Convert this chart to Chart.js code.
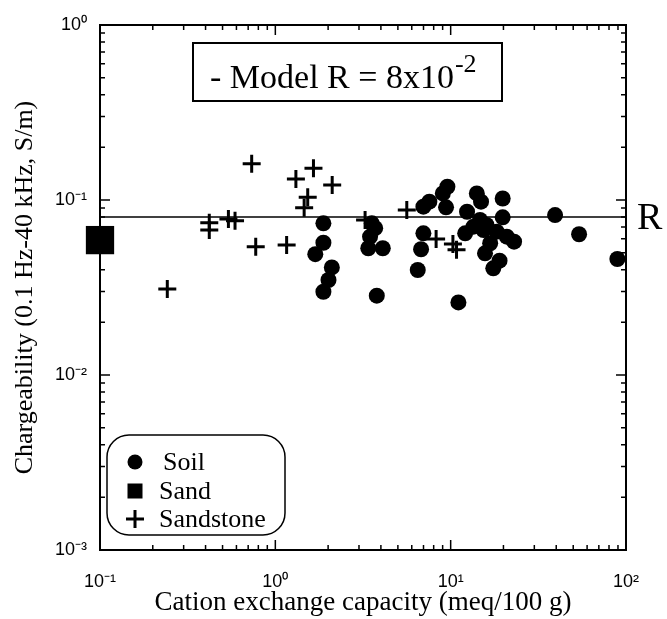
<!DOCTYPE html>
<html><head><meta charset="utf-8">
<script src="https://cdn.jsdelivr.net/npm/chart.js@4"></script>
<style>html,body{margin:0;padding:0;background:#fff}#wrap{width:667px;height:619px}</style>
</head><body><div id="wrap"><canvas id="c" width="667" height="619"></canvas></div>
<script>
// ---- data ----
const soilCEC    = [1.88, 1.88, 1.69, 2.10, 2.01, 1.88, 3.79, 3.39, 3.55, 3.47, 3.71, 4.10, 6.99, 7.56, 9.58, 9.02, 9.41, 6.99, 6.78, 6.49, 11.07, 14.1, 14.9, 12.4, 19.8, 19.8, 14.7, 13.5, 12.1, 15.4, 18.3, 20.9, 23.0, 16.8, 15.7, 19.0, 17.5, 39.4, 54.0, 89.3, 16.0];
const soilCharge = [0.0736, 0.057, 0.049, 0.0412, 0.0349, 0.0299, 0.0284, 0.053, 0.0736, 0.0617, 0.069, 0.053, 0.0916, 0.0978, 0.119, 0.109, 0.0908, 0.0645, 0.0523, 0.0398, 0.026, 0.109, 0.0978, 0.0857, 0.102, 0.0796, 0.0769, 0.0704, 0.0645, 0.0674, 0.0659, 0.0617, 0.0578, 0.0566, 0.0496, 0.045, 0.0407, 0.082, 0.0637, 0.046, 0.072];
const sandCEC    = [0.1];
const sandCharge = [0.059];
const sandstoneCEC    = [0.242, 0.42, 0.42, 0.54, 0.589, 0.733, 0.773, 1.16, 1.31, 1.65, 2.11, 1.53, 1.46, 3.25, 5.62, 8.26, 10.3, 10.8];
const sandstoneCharge = [0.031, 0.0742, 0.0674, 0.0779, 0.0761, 0.161, 0.054, 0.0553, 0.132, 0.152, 0.122, 0.1036, 0.0904, 0.0769, 0.0877, 0.0598, 0.056, 0.052];
const modelR = 0.08;
const modelRange = [0.1, 100];
const decadeLabels = {'-3':'10⁻³','-2':'10⁻²','-1':'10⁻¹','0':'10⁰','1':'10¹','2':'10²'};
const xTitle = 'Cation exchange capacity (meq/100 g)';
const yTitle = 'Chargeability (0.1 Hz-40 kHz, S/m)';
const modelText = '- Model R = 8x10';
const modelSup = '-2';
const rLabel = 'R';

const pts = (xs, ys) => xs.map((x, i) => ({x: x, y: ys[i]}));
const SERIF = '"Liberation Serif", "Times New Roman", serif';
const SANS = '"Liberation Sans", Arial, sans-serif';

function tickCb(v){
  const e = Math.log10(v);
  const r = Math.round(e);
  if (Math.abs(e - r) < 1e-6 && decadeLabels[String(r)] !== undefined) return decadeLabels[String(r)];
  return '';
}

const decorPlugin = {
  id: 'decor',
  afterDraw(chart){
    const ctx = chart.ctx;
    const a = chart.chartArea;
    const xs = chart.scales.x, ys = chart.scales.y;
    ctx.save();
    ctx.strokeStyle = '#000';
    ctx.fillStyle = '#000';
    // frame
    ctx.lineWidth = 2;
    ctx.strokeRect(a.left, a.top, a.right - a.left, a.bottom - a.top);
    // inward ticks
    ctx.lineWidth = 1.5;
    ctx.beginPath();
    for (let d = -1; d <= 2; d++) {
      for (let m = 1; m <= 9; m++) {
        const v = m * Math.pow(10, d);
        if (v > 100.0001) break;
        const p = xs.getPixelForValue(v);
        const len = m === 1 ? 10 : 5;
        ctx.moveTo(p, a.bottom); ctx.lineTo(p, a.bottom - len);
        ctx.moveTo(p, a.top); ctx.lineTo(p, a.top + len);
      }
    }
    for (let d = -3; d <= 0; d++) {
      for (let m = 1; m <= 9; m++) {
        const v = m * Math.pow(10, d);
        if (v > 1.0001) break;
        const p = ys.getPixelForValue(v);
        const len = m === 1 ? 10 : 5;
        ctx.moveTo(a.left, p); ctx.lineTo(a.left + len, p);
        ctx.moveTo(a.right, p); ctx.lineTo(a.right - len, p);
      }
    }
    ctx.stroke();

    // model box
    ctx.lineWidth = 2;
    ctx.strokeRect(193, 43, 309, 58);
    ctx.font = '34px ' + SERIF;
    ctx.textBaseline = 'alphabetic';
    ctx.textAlign = 'left';
    ctx.fillText(modelText, 210, 88);
    const w = ctx.measureText(modelText).width;
    ctx.font = '26px ' + SERIF;
    ctx.fillText(modelSup, 210 + w + 1, 72);

    // R label at model line
    const ry = ys.getPixelForValue(modelR);
    ctx.font = '38px ' + SERIF;
    ctx.textBaseline = 'middle';
    ctx.fillText(rLabel, a.right + 11, ry + 2);

    // legend
    const lx = 107, ly = 435, lw = 178, lh = 100, rr = 22;
    ctx.lineWidth = 1.5;
    ctx.beginPath();
    ctx.roundRect(lx, ly, lw, lh, rr);
    ctx.fillStyle = '#fff';
    ctx.fill();
    ctx.stroke();
    ctx.fillStyle = '#000';
    const ds = chart.data.datasets;
    const rows = [ds[1], ds[2], ds[3]];
    const rowY = [462, 491, 519];
    const textX = [163, 159, 159];
    ctx.font = '26px ' + SERIF;
    ctx.textBaseline = 'middle';
    rows.forEach((d, i) => {
      const cx = 135, cy = rowY[i];
      if (d.pointStyle === 'circle') {
        ctx.beginPath(); ctx.arc(cx, cy, 7.5, 0, Math.PI * 2); ctx.fill();
      } else if (d.pointStyle === 'rect') {
        ctx.fillRect(cx - 7.5, cy - 7.5, 15, 15);
      } else if (d.pointStyle === 'cross') {
        ctx.lineWidth = 3;
        ctx.beginPath();
        ctx.moveTo(cx - 9, cy); ctx.lineTo(cx + 9, cy);
        ctx.moveTo(cx, cy - 9); ctx.lineTo(cx, cy + 9);
        ctx.stroke();
      }
      ctx.fillText(d.label, textX[i], cy + 1);
    });
    ctx.restore();
  }
};

new Chart(document.getElementById('c'), {
  type: 'scatter',
  data: {
    datasets: [
      {
        label: 'Model R',
        type: 'line',
        data: modelRange.map(x => ({x: x, y: modelR})),
        borderColor: '#000', borderWidth: 1.5, pointRadius: 0, showLine: true, fill: false, order: 5
      },
      {
        label: 'Soil',
        data: pts(soilCEC, soilCharge),
        pointStyle: 'circle', pointRadius: 8, pointBackgroundColor: '#000', pointBorderWidth: 0,
        backgroundColor: '#000', borderColor: '#000', order: 1
      },
      {
        label: 'Sand',
        data: pts(sandCEC, sandCharge),
        pointStyle: 'rect', pointRadius: 20, pointBackgroundColor: '#000', pointBorderWidth: 0,
        backgroundColor: '#000', borderColor: '#000', clip: false, order: 0
      },
      {
        label: 'Sandstone',
        data: pts(sandstoneCEC, sandstoneCharge),
        pointStyle: 'cross', pointRadius: 9, pointBorderWidth: 3, pointBorderColor: '#000',
        backgroundColor: '#000', borderColor: '#000', order: 2
      }
    ]
  },
  options: {
    responsive: false,
    devicePixelRatio: 1,
    animation: false,
    events: [],
    layout: { padding: { left: 0, right: 41, top: 25, bottom: 0 } },
    plugins: { legend: { display: false }, tooltip: { enabled: false } },
    scales: {
      x: {
        type: 'logarithmic', min: 0.1, max: 100, position: 'bottom',
        grid: { display: false, drawTicks: false },
        border: { display: false },
        ticks: { callback: tickCb, autoSkip: false, maxRotation: 0, padding: 21, color: '#000', font: { family: SANS, size: 18 } },
        title: { display: true, text: xTitle, color: '#000', font: { family: SERIF, size: 27 }, padding: { top: 0, bottom: 0 } },
        afterFit(s){ s.height = 69; }
      },
      y: {
        type: 'logarithmic', min: 0.001, max: 1, position: 'left',
        grid: { display: false, drawTicks: false },
        border: { display: false },
        ticks: { callback: tickCb, autoSkip: false, padding: 13, color: '#000', font: { family: SANS, size: 18 } },
        title: { display: true, text: yTitle, color: '#000', font: { family: SERIF, size: 26 }, padding: { top: 10, bottom: 0 } },
        afterFit(s){ s.width = 100; }
      }
    }
  },
  plugins: [decorPlugin]
});
</script>
</body></html>
